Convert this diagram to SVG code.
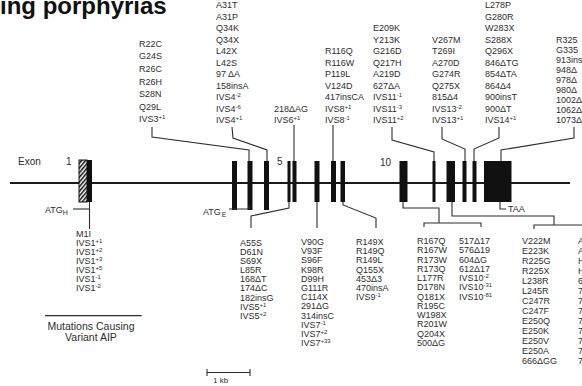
<svg xmlns="http://www.w3.org/2000/svg" width="582" height="386" viewBox="0 0 582 386">
<defs>
  <pattern id="hatch" width="3" height="3" patternUnits="userSpaceOnUse" patternTransform="rotate(40)">
    <rect width="3" height="3" fill="#fff"/>
    <rect x="0" y="0" width="1.5" height="3" fill="#111"/>
  </pattern>
  <style>
    .t{font-family:"Liberation Sans",Arial,Helvetica,sans-serif;font-size:9px;fill:#2e2e2e}
    .sup{font-size:6px}
    .sub{font-size:7px}
    .title{font-family:"Liberation Sans",Arial,Helvetica,sans-serif;font-size:24px;font-weight:bold;fill:#111}
    .lbl{font-family:"Liberation Sans",Arial,Helvetica,sans-serif;font-size:10px;fill:#2e2e2e}
    .lead{fill:none;stroke:#2e2e2e;stroke-width:1.1}
    .exon{fill:#111}
    .axis{stroke:#1a1a1a;stroke-width:2}
  </style>
</defs>
<rect width="582" height="386" fill="#fff"/>

<text class="title" x="0" y="14">ing porphyrias</text>

<!-- gene axis -->
<line class="axis" x1="10" y1="183" x2="570" y2="183"/>
<text class="lbl" x="18" y="165">Exon</text>
<text class="lbl" x="66" y="165">1</text>
<text class="lbl" x="277" y="165">5</text>
<text class="lbl" x="380" y="166">10</text>

<!-- exons -->
<g id="exon1"><rect x="79" y="160" width="8" height="42" fill="url(#hatch)" stroke="#111" stroke-width="1"/><rect class="exon" x="87" y="160" width="5" height="42"/></g>
<g id="exon2"><rect class="exon" x="232" y="161" width="5" height="49"/></g>
<g id="exon3"><rect class="exon" x="247.5" y="161" width="5" height="49"/></g>
<g id="exon4"><rect class="exon" x="264" y="161" width="5" height="49"/></g>
<g id="exon5"><rect class="exon" x="287.5" y="161" width="3" height="41"/></g>
<g id="exon6"><rect class="exon" x="292.5" y="161" width="4" height="41"/></g>
<g id="exon7"><rect class="exon" x="314.5" y="161" width="5" height="41"/></g>
<g id="exon8"><rect class="exon" x="331" y="161" width="5" height="41"/></g>
<g id="exon9"><rect class="exon" x="340.5" y="161" width="4.5" height="41"/></g>
<g id="exon10"><rect class="exon" x="399.5" y="161" width="8" height="41"/></g>
<g id="exon11"><rect class="exon" x="432.5" y="161" width="3" height="41"/></g>
<g id="exon12"><rect class="exon" x="446.5" y="161" width="8.5" height="41"/></g>
<g id="exon13"><rect class="exon" x="462.5" y="161" width="4" height="41"/></g>
<g id="exon14"><rect class="exon" x="472.5" y="161" width="4" height="41"/></g>
<g id="exon15"><rect class="exon" x="484" y="161" width="27.5" height="41"/></g>

<!-- connectors -->
<g id="connectors" class="lead">
  <path d="M152,127 L152,137 L249,150 L249,161"/>
  <path d="M232,127 L233,138 L267,150 L267,161"/>
  <path d="M294,125 L294,161"/>
  <path d="M333,125 L333,161"/>
  <path d="M392,127 L392,140 L434,152 L434,161"/>
  <path d="M442,127 L442,139 L465,149 L465,161"/>
  <path d="M499,127 L499,138 L474,149 L474,161"/>
  <path d="M574,127 L574,138 L501,150 L501,161"/>
  <path d="M89.5,202 L89.5,229"/>
  <path d="M73,209 L89.5,209"/>
  <path d="M229,209 L249,209 L249,205"/>
  <path d="M289,202 L289,208 L251,216 L251,228"/>
  <path d="M317,202 L317,228"/>
  <path d="M343,202 L343,205 L376,218 L376,228"/>
  <path d="M403,202 L403,208 L439,208 L439,223"/>
  <path d="M424,227 L424,223 L481,223 L481,227"/>
  <path d="M452,202 L452,216 L554,216 L554,225"/>
  <path d="M534,229 L534,225 L582,225"/>
  <path d="M500,202 L500,209 L506,209"/>
  <path d="M45,315.7 L141.7,315.7" stroke-width="1.3"/>
  <path d="M207,369 L207,376 M207,372.5 L250,372.5 M250,369 L250,376"/>
</g>

<text class="t" x="508" y="211.5">TAA</text>
<text class="t" x="45" y="213">ATG<tspan class="sub" dy="2">H</tspan></text>
<text class="t" x="203" y="214.5">ATG<tspan class="sub" dx="1" dy="2.5">E</tspan></text>
<text class="t" x="213" y="383" style="font-size:8px">1 kb</text>

<g id="legend" class="lbl" text-anchor="middle" style="font-size:10.5px">
  <text x="91" y="330">Mutations Causing</text>
  <text x="91" y="340.5">Variant AIP</text>
</g>

<!-- mutation lists above the gene -->
<g id="m-exon3" class="t">
  <text x="139" y="46.7">R22C</text><text x="139" y="59.3">G24S</text><text x="139" y="71.9">R26C</text>
  <text x="139" y="84.5">R26H</text><text x="139" y="97.1">S28N</text><text x="139" y="109.7">Q29L</text>
  <text x="139" y="122.3">IVS3<tspan class="sup" dy="-3">+1</tspan></text>
</g>
<g id="m-exon4" class="t">
  <text x="216" y="8.2">A31T</text><text x="216" y="19.7">A31P</text><text x="216" y="31.2">Q34K</text>
  <text x="216" y="42.7">Q34X</text><text x="216" y="54.2">L42X</text><text x="216" y="65.7">L42S</text>
  <text x="216" y="77.2">97 ΔA</text><text x="216" y="88.7">158insA</text>
  <text x="216" y="100.2">IVS4<tspan class="sup" dy="-3">-2</tspan></text>
  <text x="216" y="111.7">IVS4<tspan class="sup" dy="-3">-6</tspan></text>
  <text x="216" y="123.2">IVS4<tspan class="sup" dy="-3">+1</tspan></text>
</g>
<g id="m-exon6" class="t">
  <text x="274" y="112.2">218ΔAG</text>
  <text x="274" y="123.2">IVS6<tspan class="sup" dy="-3">+1</tspan></text>
</g>
<g id="m-exon8" class="t">
  <text x="325" y="54.2">R116Q</text><text x="325" y="65.7">R116W</text><text x="325" y="77.2">P119L</text>
  <text x="325" y="88.7">V124D</text><text x="325" y="100.2">417insCA</text>
  <text x="325" y="111.7">IVS8<tspan class="sup" dy="-3">+1</tspan></text>
  <text x="325" y="123.2">IVS8<tspan class="sup" dy="-3">-1</tspan></text>
</g>
<g id="m-exon11" class="t">
  <text x="373" y="31.2">E209K</text><text x="373" y="42.7">Y213K</text><text x="373" y="54.2">G216D</text>
  <text x="373" y="65.7">Q217H</text><text x="373" y="77.2">A219D</text><text x="373" y="88.7">627ΔA</text>
  <text x="373" y="100.2">IVS11<tspan class="sup" dy="-3">-1</tspan></text>
  <text x="373" y="111.7">IVS11<tspan class="sup" dy="-3">-3</tspan></text>
  <text x="373" y="123.2">IVS11<tspan class="sup" dy="-3">+2</tspan></text>
</g>
<g id="m-exon13" class="t">
  <text x="432" y="42.7">V267M</text><text x="432" y="54.2">T269I</text><text x="432" y="65.7">A270D</text>
  <text x="432" y="77.2">G274R</text><text x="432" y="88.7">Q275X</text><text x="432" y="100.2">815Δ4</text>
  <text x="432" y="111.7">IVS13<tspan class="sup" dy="-3">-2</tspan></text>
  <text x="432" y="123.2">IVS13<tspan class="sup" dy="-3">+1</tspan></text>
</g>
<g id="m-exon14" class="t">
  <text x="485" y="8.2">L278P</text><text x="485" y="19.7">G280R</text><text x="485" y="31.2">W283X</text>
  <text x="485" y="42.7">S288X</text><text x="485" y="54.2">Q296X</text><text x="485" y="65.7">846ΔTG</text>
  <text x="485" y="77.2">854ΔTA</text><text x="485" y="88.7">864Δ4</text><text x="485" y="100.2">900insT</text>
  <text x="485" y="111.7">900ΔT</text>
  <text x="485" y="123.2">IVS14<tspan class="sup" dy="-3">+1</tspan></text>
</g>
<g id="m-exon15" class="t">
  <text x="556" y="42.5">R325</text><text x="556" y="52.6">G335</text><text x="556" y="62.7">913ins</text>
  <text x="556" y="72.8">948Δ</text><text x="556" y="82.9">978Δ</text><text x="556" y="93">980Δ</text>
  <text x="556" y="103.1">1002Δ</text><text x="556" y="113.2">1062Δ</text><text x="556" y="123.3">1073Δ</text>
</g>

<!-- mutation lists below the gene -->
<g id="m-exon1" class="t">
  <text x="76" y="236.5">M1I</text>
  <text x="76" y="245.5">IVS1<tspan class="sup" dy="-3">+1</tspan></text>
  <text x="76" y="254.5">IVS1<tspan class="sup" dy="-3">+2</tspan></text>
  <text x="76" y="263.5">IVS1<tspan class="sup" dy="-3">+3</tspan></text>
  <text x="76" y="272.5">IVS1<tspan class="sup" dy="-3">+5</tspan></text>
  <text x="76" y="281.5">IVS1<tspan class="sup" dy="-3">-1</tspan></text>
  <text x="76" y="290.5">IVS1<tspan class="sup" dy="-3">-2</tspan></text>
</g>
<g id="m-exon5" class="t">
  <text x="240" y="245.9">A55S</text><text x="240" y="255">D61N</text><text x="240" y="264.1">S69X</text>
  <text x="240" y="273.2">L85R</text><text x="240" y="282.3">168ΔT</text><text x="240" y="291.4">174ΔC</text>
  <text x="240" y="300.5">182insG</text>
  <text x="240" y="309.6">IVS5<tspan class="sup" dy="-3">+1</tspan></text>
  <text x="240" y="318.7">IVS5<tspan class="sup" dy="-3">+2</tspan></text>
</g>
<g id="m-exon7" class="t">
  <text x="301" y="245">V90G</text><text x="301" y="254.2">V93F</text><text x="301" y="263.4">S96F</text>
  <text x="301" y="272.6">K98R</text><text x="301" y="281.8">D99H</text><text x="301" y="291">G111R</text>
  <text x="301" y="300.2">C114X</text><text x="301" y="309.4">291ΔG</text><text x="301" y="318.6">314insC</text>
  <text x="301" y="327.8">IVS7<tspan class="sup" dy="-3">-1</tspan></text>
  <text x="301" y="337">IVS7<tspan class="sup" dy="-3">+2</tspan></text>
  <text x="301" y="346.2">IVS7<tspan class="sup" dy="-3">+33</tspan></text>
</g>
<g id="m-exon9" class="t">
  <text x="356" y="245">R149X</text><text x="356" y="254.2">R149Q</text><text x="356" y="263.4">R149L</text>
  <text x="356" y="272.6">Q155X</text><text x="356" y="281.8">453Δ3</text><text x="356" y="291">470insA</text>
  <text x="356" y="300.2">IVS9<tspan class="sup" dy="-3">-1</tspan></text>
</g>
<g id="m-exon10" class="t">
  <text x="417" y="244">R167Q</text><text x="417" y="253.25">R167W</text><text x="417" y="262.5">R173W</text>
  <text x="417" y="271.75">R173Q</text><text x="417" y="281">L177R</text><text x="417" y="290.25">D178N</text>
  <text x="417" y="299.5">Q181X</text><text x="417" y="308.75">R195C</text><text x="417" y="318">W198X</text>
  <text x="417" y="327.25">R201W</text><text x="417" y="336.5">Q204X</text><text x="417" y="345.75">500ΔG</text>
  <text x="459" y="244">517Δ17</text><text x="459" y="253.25">576Δ19</text><text x="459" y="262.5">604ΔG</text>
  <text x="459" y="271.75">612Δ17</text>
  <text x="459" y="281">IVS10<tspan class="sup" dy="-3">-2</tspan></text>
  <text x="459" y="290.25">IVS10<tspan class="sup" dy="-3">-31</tspan></text>
  <text x="459" y="299.5">IVS10<tspan class="sup" dy="-3">-81</tspan></text>
</g>
<g id="m-exon12" class="t">
  <text x="522" y="244">V222M</text><text x="522" y="254">E223K</text><text x="522" y="264">R225G</text>
  <text x="522" y="274">R225X</text><text x="522" y="284">L238R</text><text x="522" y="294">L245R</text>
  <text x="522" y="304">C247R</text><text x="522" y="314">C247F</text><text x="522" y="324">E250Q</text>
  <text x="522" y="334">E250K</text><text x="522" y="344">E250V</text><text x="522" y="354">E250A</text>
  <text x="522" y="364">666ΔGG</text>
  <text x="578" y="244">A</text><text x="578" y="254">A</text><text x="578" y="264">H</text>
  <text x="578" y="274">H</text><text x="578" y="284">6</text><text x="578" y="294">7</text>
  <text x="578" y="304">7</text><text x="578" y="314">7</text><text x="578" y="324">7</text>
  <text x="578" y="334">7</text><text x="578" y="344">7</text><text x="578" y="354">7</text>
  <text x="578" y="364">7</text>
</g>
</svg>
